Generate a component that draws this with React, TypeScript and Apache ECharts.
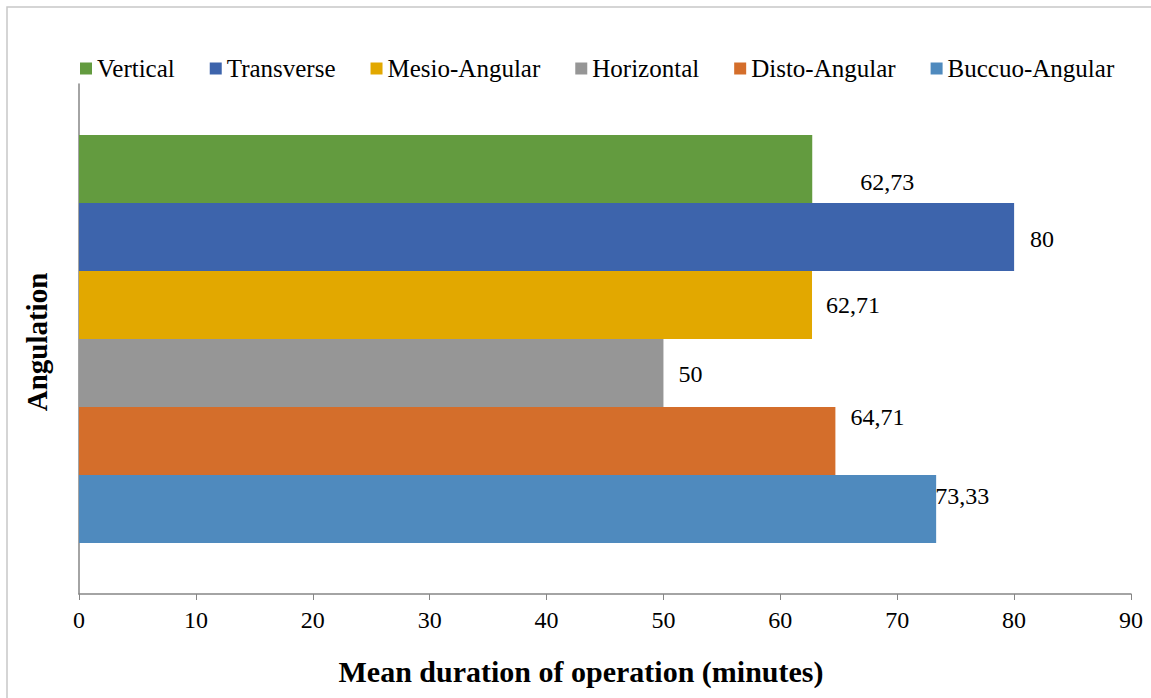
import React, { useEffect, useRef } from "react";
import * as echarts from "echarts";

const seriesNames = ["Vertical", "Transverse", "Mesio-Angular", "Horizontal", "Disto-Angular", "Buccuo-Angular"];
const seriesValues = [62.73, 80, 62.71, 50, 64.71, 73.33];
const seriesColors = ["#639B3F", "#3D64AC", "#E2A800", "#969696", "#D46E2B", "#4F8ABE"];
const labelOffsets: [number, number][] = [[48, 13], [16, 2], [14, 0], [15, 1], [15, -24], [-1, -13]];
const xTicks = { min: 0, max: 90, interval: 10 };
const categories = [""];
const xTitle = "Mean duration of operation (minutes)";
const yTitle = "Angulation";

const FONT = "'Liberation Serif', 'Times New Roman', serif";

export default function App() {
  const ref = useRef<HTMLDivElement>(null);
  useEffect(() => {
    if (!ref.current) return;
    const chart = echarts.init(ref.current, null, { renderer: "svg" });
    chart.setOption({
      animation: false,
      backgroundColor: "#ffffff",
      textStyle: { fontFamily: FONT },
      legend: {
        data: seriesNames,
        left: 75,
        top: 51,
        itemWidth: 12,
        itemHeight: 12,
        itemGap: 35,
        icon: "rect",
        textStyle: { fontSize: 25, color: "#000", fontFamily: FONT },
      },
      grid: { left: 79, right: 20, top: 84, bottom: 104 },
      xAxis: {
        type: "value",
        min: xTicks.min,
        max: xTicks.max,
        interval: xTicks.interval,
        axisLine: { show: true, lineStyle: { color: "#868686", width: 1.5 } },
        axisTick: { show: true, length: 6, lineStyle: { color: "#868686" } },
        splitLine: { show: false },
        axisLabel: { fontSize: 24, color: "#000", fontFamily: FONT, margin: 14 },
      },
      yAxis: {
        type: "category",
        data: categories,
        inverse: true,
        axisLine: { show: true, lineStyle: { color: "#868686", width: 1.5 } },
        axisTick: { show: false },
        axisLabel: { show: false },
      },
      graphic: [
        {
          type: "rect",
          shape: { x: 7, y: 7, width: 1300, height: 900 },
          style: { fill: "none", stroke: "#c8c8c8", lineWidth: 1.5 },
          silent: true,
        },
        {
          type: "text",
          x: 581,
          y: 671,
          style: {
            text: xTitle,
            font: `bold 30px ${FONT}`,
            fill: "#000",
            align: "center",
            verticalAlign: "middle",
          },
        },
        {
          type: "text",
          x: 37,
          y: 342,
          rotation: Math.PI / 2,
          style: {
            text: yTitle,
            font: `bold 29px ${FONT}`,
            fill: "#000",
            align: "center",
            verticalAlign: "middle",
          },
        },
      ],
      series: seriesNames.map((name, i) => ({
        name,
        type: "bar",
        data: [seriesValues[i]],
        barGap: "0%",
        barCategoryGap: "20%",
        itemStyle: { color: seriesColors[i] },
        label: {
          show: true,
          position: "right",
          distance: 0,
          offset: labelOffsets[i],
          fontSize: 24,
          color: "#000",
          fontFamily: FONT,
          formatter: (p: any) => String(p.value).replace(".", ","),
        },
      })),
    });
    return () => chart.dispose();
  }, []);
  return (
    <div
      ref={ref}
      style={{ position: "fixed", left: 0, top: 0, width: 1151, height: 698 }}
    />
  );
}
